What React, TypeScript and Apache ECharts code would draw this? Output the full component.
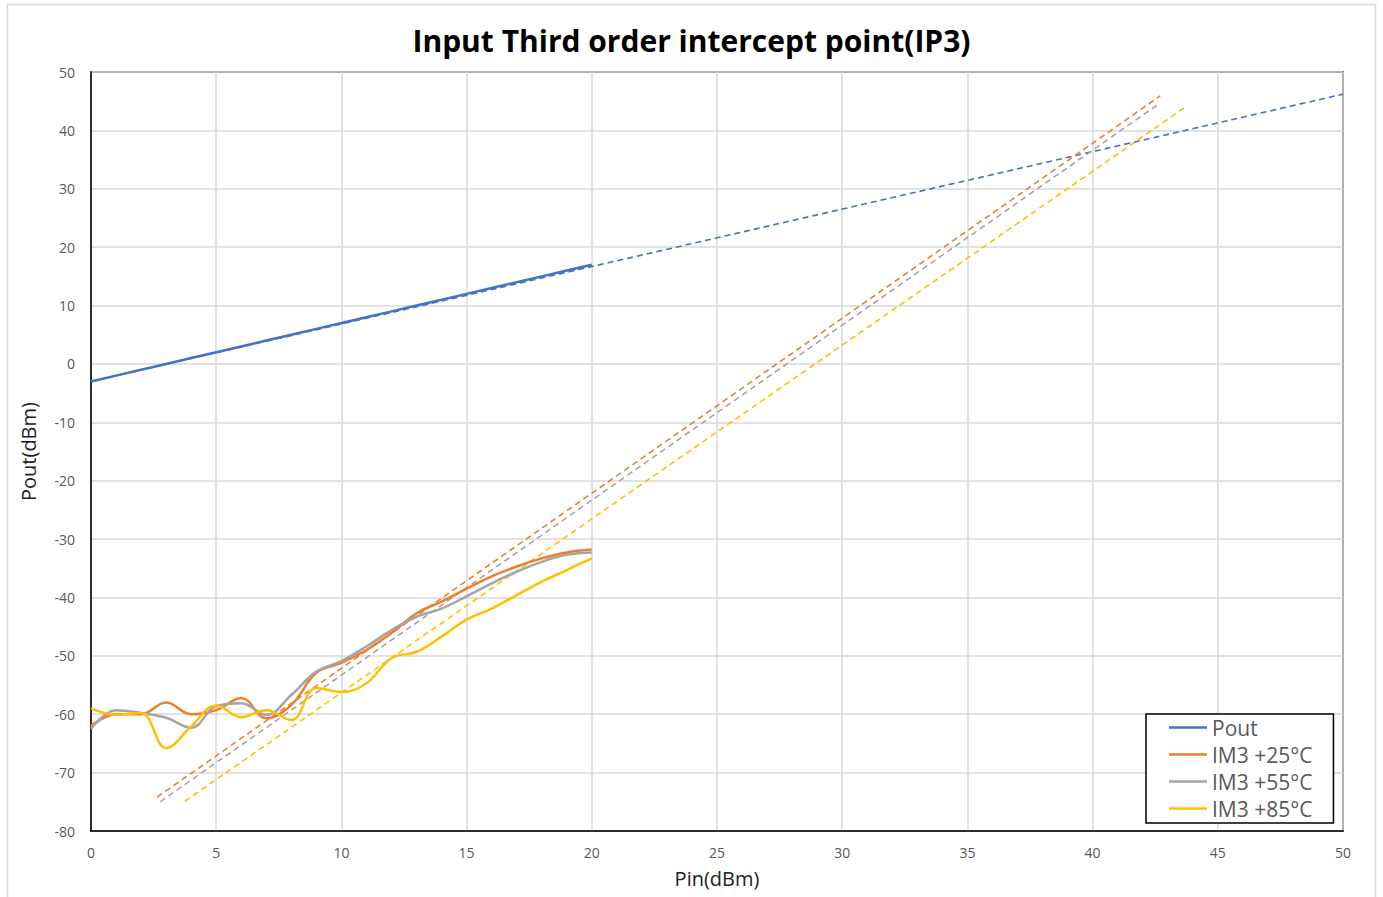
import React, { useEffect, useRef } from "react";
import * as echarts from "echarts";

// Input power (dBm) for the measured curves
const pinValues = [0, 1, 2, 3, 4, 5, 6, 7, 8, 9, 10, 11, 12, 13, 14, 15, 16, 17, 18, 19, 20];
// Measured output power (dBm)
const poutValues = [-3, -2, -1, 0, 1, 2, 3, 4, 5, 6, 7, 8, 9, 10, 11, 12, 13, 14, 15, 16, 17];
// Measured IM3 (dBm) per temperature
const im3At25 = [-62, -60, -60, -58, -60, -59.3, -57.2, -60.7, -58.4, -52.9, -51.2, -49, -46.1, -42.7, -40.7, -38.5, -36.4, -34.7, -33.3, -32.3, -31.8];
const im3At55 = [-62.5, -59.3, -59.8, -60.6, -62.3, -58.6, -58.1, -60.1, -56.7, -52.7, -50.9, -48.4, -45.6, -43.3, -41.9, -39.8, -37.6, -35.6, -33.9, -32.7, -32.3];
const im3At85 = [-59, -60.1, -59.8, -65.8, -62.1, -58.5, -60.5, -59.3, -61, -55.5, -56.2, -54.7, -50.4, -49.3, -46.7, -43.8, -41.9, -39.6, -37.3, -35.3, -33.3];

// Linear trend lines (start and end points: [Pin, Pout])
const poutTrend = [[0, -3], [50, 46.2]];
const im3At25Trend = [[2.64, -74.2], [42.7, 45.9]];
const im3At55Trend = [[2.76, -75.0], [42.6, 44.4]];
const im3At85Trend = [[3.75, -74.9], [43.7, 44.0]];

const xTicks = { min: 0, max: 50, interval: 5 };
const yTicks = { min: -80, max: 50, interval: 10 };

const seriesNames = ["Pout", "IM3 +25°C", "IM3 +55°C", "IM3 +85°C"];
const seriesColors = ["#4472C4", "#ED7D31", "#A5A5A5", "#FFC000"];

function pair(xs: number[], ys: number[]) {
  return xs.map((x, i) => [x, ys[i]]);
}

export default function App() {
  const ref = useRef<HTMLDivElement>(null);
  useEffect(() => {
    if (!ref.current) return;
    const chart = echarts.init(ref.current, null, { renderer: "svg" });
    const measured = [poutValues, im3At25, im3At55, im3At85];
    const trends = [poutTrend, im3At25Trend, im3At55Trend, im3At85Trend];
    const font = "'Open Sans', 'Noto Sans', sans-serif";
    const series: any[] = [];
    measured.forEach((vals, i) => {
      series.push({
        name: seriesNames[i],
        type: "line",
        data: pair(pinValues, vals),
        smooth: i === 0 ? false : 0.4,
        showSymbol: false,
        symbol: "none",
        lineStyle: { color: seriesColors[i], width: 2.5 },
        itemStyle: { color: seriesColors[i] },
        z: 3,
      });
    });
    trends.forEach((t, i) => {
      series.push({
        name: seriesNames[i] + " trend",
        type: "line",
        data: t,
        showSymbol: false,
        symbol: "none",
        lineStyle: { color: seriesColors[i], width: 1.6, type: [6, 4] },
        z: 2,
      });
    });
    chart.setOption({
      animation: false,
      backgroundColor: "#fff",
      textStyle: { fontFamily: font },
      title: {
        text: "Input Third order intercept point(IP3)",
        left: "center",
        top: 20,
        textStyle: { fontFamily: font, fontSize: 30, fontWeight: "bold", color: "#000" },
      },
      graphic: [
        {
          type: "rect",
          shape: { x: 7.5, y: 4.5, width: 1368, height: 900 },
          style: { fill: "none", stroke: "#d9d9d9", lineWidth: 1.5 },
          silent: true,
        },
      ],
      grid: {
        left: 91,
        right: 40,
        top: 72,
        bottom: 66,
        show: true,
        borderColor: "#000",
        borderWidth: 1.5,
      },
      legend: {
        data: seriesNames,
        orient: "vertical",
        left: 1146,
        top: 714,
        backgroundColor: "#fff",
        borderColor: "#000",
        borderWidth: 1.5,
        padding: [3, 21, 4, 23],
        icon: "rect",
        itemWidth: 38,
        itemHeight: 2.5,
        itemGap: 6,
        textStyle: { fontFamily: font, fontSize: 21, color: "#595959", lineHeight: 20 },
      },
      xAxis: {
        type: "value",
        min: xTicks.min,
        max: xTicks.max,
        interval: xTicks.interval,
        name: "Pin(dBm)",
        nameLocation: "middle",
        nameGap: 37,
        nameTextStyle: { fontFamily: font, fontSize: 20, color: "#222" },
        axisLine: { show: true, onZero: false, lineStyle: { color: "#000", width: 1.5 } },
        axisTick: { show: false },
        axisLabel: { fontFamily: font, fontSize: 14, color: "#595959", margin: 14 },
        splitLine: { show: true, lineStyle: { color: "#d9d9d9", width: 1.5 } },
      },
      yAxis: {
        type: "value",
        min: yTicks.min,
        max: yTicks.max,
        interval: yTicks.interval,
        name: "Pout(dBm)",
        nameLocation: "middle",
        nameGap: 53,
        nameTextStyle: { fontFamily: font, fontSize: 20, color: "#222" },
        axisLine: { show: true, onZero: false, lineStyle: { color: "#000", width: 1.5 } },
        axisTick: { show: false },
        axisLabel: { fontFamily: font, fontSize: 14, color: "#595959", margin: 16 },
        splitLine: { show: true, lineStyle: { color: "#d9d9d9", width: 1.5 } },
      },
      series,
    });
    return () => chart.dispose();
  }, []);
  return (
    <div
      ref={ref}
      style={{ position: "fixed", left: 0, top: 0, width: 1383, height: 897 }}
    />
  );
}
